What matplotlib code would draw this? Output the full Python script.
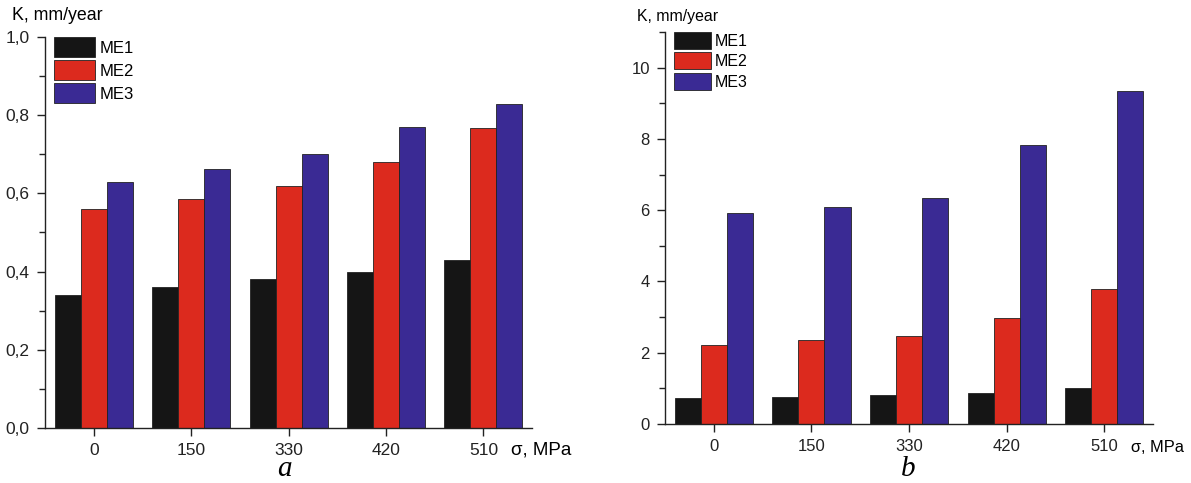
import matplotlib
matplotlib.use("Agg")
import matplotlib.pyplot as plt
import numpy as np
from matplotlib.ticker import MultipleLocator, FuncFormatter

# data
stress = ["0", "150", "330", "420", "510"]  # σ, MPa
series = ["ME1", "ME2", "ME3"]

a_me1 = [0.34, 0.36, 0.38, 0.40, 0.43]
a_me2 = [0.56, 0.585, 0.62, 0.68, 0.767]
a_me3 = [0.63, 0.662, 0.70, 0.77, 0.828]

b_me1 = [0.72, 0.75, 0.80, 0.88, 1.02]
b_me2 = [2.22, 2.35, 2.47, 2.97, 3.80]
b_me3 = [5.92, 6.10, 6.33, 7.83, 9.33]

colors = ["#151515", "#dc2a1e", "#3a2a94"]

plt.rcParams["font.family"] = ["Liberation Sans", "DejaVu Sans"]


def comma_fmt(v, pos):
    return f"{v:.1f}".replace(".", ",")  # 0.2 -> 0,2


def draw_panel(ax, values, ymax, major, minor, fmt, fs, lfs, hlen, hh, lsp):
    x = np.arange(len(stress))
    w = 0.267
    for i, (vals, c, name) in enumerate(zip(values, colors, series)):
        ax.bar(x + (i - 1) * w, vals, width=w, color=c, edgecolor="#222222",
               linewidth=0.6, label=name)
    ax.set_xlim(-0.5, 4.5)
    ax.set_ylim(0, ymax)
    ax.set_xticks(x)
    ax.set_xticklabels(stress)
    ax.yaxis.set_major_locator(MultipleLocator(major))
    ax.yaxis.set_minor_locator(MultipleLocator(minor))
    if fmt is not None:
        ax.yaxis.set_major_formatter(FuncFormatter(fmt))
    for s in ["top", "right"]:
        ax.spines[s].set_visible(False)
    for s in ["left", "bottom"]:
        ax.spines[s].set_linewidth(1.0)
        ax.spines[s].set_color("#222222")
    ax.tick_params(axis="both", which="major", direction="out", length=6,
                   width=1.0, labelsize=fs, colors="#222222", pad=5)
    ax.tick_params(axis="y", which="minor", direction="out", length=4, width=1.0,
                   colors="#222222")
    ax.tick_params(axis="x", which="minor", bottom=False)
    leg = ax.legend(loc="upper left", bbox_to_anchor=(0.018, 1.0), frameon=False,
                    fontsize=lfs, handlelength=hlen, handleheight=hh,
                    labelspacing=lsp, handletextpad=0.25, borderpad=0,
                    borderaxespad=0)
    return leg


fig = plt.figure(figsize=(11.91, 4.83), dpi=100)

ax1 = fig.add_axes([0.0378, 0.1139, 0.409, 0.8095])
draw_panel(ax1, [a_me1, a_me2, a_me3], 1.0, 0.2, 0.1, comma_fmt, 12.5,
           12, 2.5, 1.47, 0.18)

ax2 = fig.add_axes([0.5584, 0.1222, 0.4097, 0.8116])
draw_panel(ax2, [b_me1, b_me2, b_me3], 11, 2, 1, None, 12,
           11.5, 2.3, 1.25, 0.22)

# axis titles
fig.text(12 / 1191, 1 - 16 / 483, "K, mm/year", fontsize=12.8, va="center", ha="left")
fig.text(637 / 1191, 1 - 16 / 483, "K, mm/year", fontsize=11.4, va="center", ha="left")
fig.text(511 / 1191, 1 - 450 / 483, "σ, MPa", fontsize=13.5, va="center", ha="left")
fig.text(1131 / 1191, 1 - 448 / 483, "σ, MPa", fontsize=11.8, va="center", ha="left")

# panel letters (baseline near the bottom edge)
fig.text(284 / 1191, 1 - 476 / 483, "a", fontsize=21, style="italic",
         family="Liberation Serif", va="baseline", ha="center")
fig.text(908 / 1191, 1 - 476 / 483, "b", fontsize=21, style="italic",
         family="Liberation Serif", va="baseline", ha="center")

fig.savefig("out.png", dpi=100)
